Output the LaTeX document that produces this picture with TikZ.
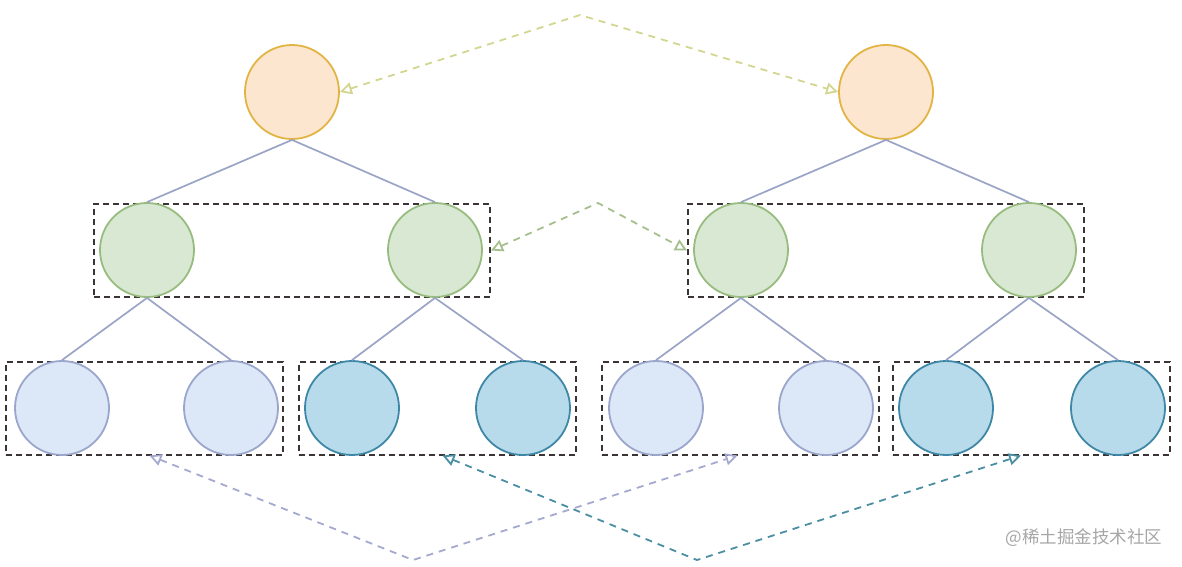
\documentclass[tikz,border=0pt]{standalone}
\usepackage{fontspec}
\newfontfamily\cjk{Noto Sans CJK SC}
\usetikzlibrary{arrows.meta}
\definecolor{orfill}{HTML}{FCE6D0}
\definecolor{ordraw}{HTML}{E2B443}
\definecolor{grfill}{HTML}{D9E8D3}
\definecolor{grdraw}{HTML}{98BC80}
\definecolor{lbfill}{HTML}{DCE7F7}
\definecolor{lbdraw}{HTML}{9AA6CB}
\definecolor{dbfill}{HTML}{B8DBEC}
\definecolor{dbdraw}{HTML}{3F87A6}
\definecolor{edgecol}{HTML}{9AA4C6}
\definecolor{boxcol}{HTML}{3B3434}
\definecolor{arrA}{HTML}{D2D690}
\definecolor{arrB}{HTML}{A5BF8E}
\definecolor{arrC}{HTML}{A5A9CF}
\definecolor{arrD}{HTML}{4A8EA2}
\tikzset{
  circ/.style={circle, minimum size=94pt, inner sep=0pt, line width=1.8pt},
  orc/.style={circ, fill=orfill, draw=ordraw},
  grc/.style={circ, fill=grfill, draw=grdraw},
  lbc/.style={circ, fill=lbfill, draw=lbdraw},
  dbc/.style={circ, fill=dbfill, draw=dbdraw},
  grpbox/.style={draw=boxcol, line width=2pt, dash pattern=on 6pt off 4pt, inner sep=0pt, minimum height=93pt},
  treeedge/.style={draw=edgecol, line width=1.7pt},
  link/.style={line width=1.8pt, dash pattern=on 7pt off 6pt, {Triangle[open,length=12pt,width=12pt]}-{Triangle[open,length=12pt,width=12pt]}},
}
\begin{document}
\begin{tikzpicture}[x=1pt,y=-1pt]
\useasboundingbox (0,0) rectangle (1182,566);
% group boxes
\node[grpbox, minimum width=396pt] (gbL) at (292,250.5) {};
\node[grpbox, minimum width=396pt] (gbR) at (886,250.5) {};
\node[grpbox, minimum width=277pt] (bb1) at (144.5,408) {};
\node[grpbox, minimum width=277pt] (bb2) at (437.5,408) {};
\node[grpbox, minimum width=277pt] (bb3) at (740.5,408) {};
\node[grpbox, minimum width=277pt] (bb4) at (1031,408) {};
% circles
\node[orc] (oL) at (292,92) {};
\node[orc] (oR) at (886,92) {};
\node[grc] (gL1) at (147,250) {};
\node[grc] (gL2) at (435,250) {};
\node[grc] (gR1) at (741,250) {};
\node[grc] (gR2) at (1029,250) {};
\node[lbc] (b1) at (62,408) {};
\node[lbc] (b2) at (231,408) {};
\node[dbc] (b3) at (352,408) {};
\node[dbc] (b4) at (523,408) {};
\node[lbc] (b5) at (656,408) {};
\node[lbc] (b6) at (826,408) {};
\node[dbc] (b7) at (946,408) {};
\node[dbc] (b8) at (1118,408) {};
% tree edges
\draw[treeedge] (oL.south) -- (gL1.north);
\draw[treeedge] (oL.south) -- (gL2.north);
\draw[treeedge] (oR.south) -- (gR1.north);
\draw[treeedge] (oR.south) -- (gR2.north);
\draw[treeedge] (gL1.south) -- (b1.north);
\draw[treeedge] (gL1.south) -- (b2.north);
\draw[treeedge] (gL2.south) -- (b3.north);
\draw[treeedge] (gL2.south) -- (b4.north);
\draw[treeedge] (gR1.south) -- (b5.north);
\draw[treeedge] (gR1.south) -- (b6.north);
\draw[treeedge] (gR2.south) -- (b7.north);
\draw[treeedge] (gR2.south) -- (b8.north);
% dashed links
\coordinate (pA) at (580,15);
\coordinate (pB) at (598,203);
\coordinate (pC) at (413,560);
\coordinate (pD) at (697,560);
\draw[link, draw=arrA] (oL.east) -- (pA) -- (oR.west);
\draw[link, draw=arrB] (gbL.east) -- (pB) -- (gbR.west);
\draw[link, draw=arrC] ([xshift=5pt]bb1.south) -- (pC) -- ([xshift=-3pt]bb3.south);
\draw[link, draw=arrD] ([xshift=5pt]bb2.south) -- (pD) -- ([xshift=-10pt]bb4.south);
% watermark
\node[text=black!35, font=\cjk\fontsize{17.5pt}{19pt}\selectfont, anchor=center] (wm) at (1084,538) {@稀土掘金技术社区};
\end{tikzpicture}
\end{document}
